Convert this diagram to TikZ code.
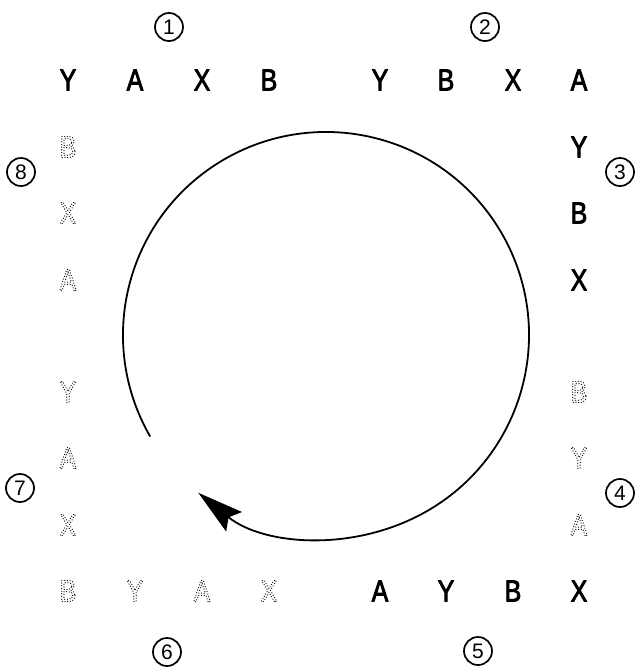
\documentclass[tikz,border=0pt]{standalone}
\usepackage{fontspec}
\setmainfont{Liberation Sans}
\newfontfamily\letf[FakeStretch=0.82]{Liberation Sans}
\usetikzlibrary{arrows.meta,calc}
\newcommand\dotletter[1]{\special{pdf:literal direct 1 Tr 1.25 w 1 J 1 j [0 2.7] 0 d}#1\special{pdf:literal direct 0 Tr 0 J 0 j [] 0 d}}
\newcommand\heavyletter[1]{\special{pdf:literal direct 2 Tr 0.8 w 1 j}#1\special{pdf:literal direct 0 Tr 0 j}}
\tikzset{
  boldl/.style={inner sep=0pt, font=\letf\fontsize{30.5}{30.5}\selectfont},
  dotl/.style={inner sep=0pt, font=\letf\fontsize{30.5}{30.5}\selectfont},
  numc/.style={circle, draw, line width=1.7pt, minimum size=28pt, inner sep=0pt, font=\fontsize{21}{21}\selectfont},
  turn/.style={line width=1.8pt, -{Stealth[length=46pt,width=25pt,inset=7pt]}},
}
\begin{document}
\begin{tikzpicture}[x=1pt,y=-1pt]
\useasboundingbox (0,0) rectangle (635,670);
% circled numbers
\node[numc] (n1) at (169,27) {1};
\node[numc] (n2) at (485,27) {2};
\node[numc] (n3) at (620,172) {3};
\node[numc] (n4) at (620,493) {4};
\node[numc] (n5) at (478,651) {5};
\node[numc] (n6) at (167,652) {6};
\node[numc] (n7) at (20,488) {7};
\node[numc] (n8) at (21,172) {8};
% turning arrow
\coordinate (c) at (326,335);
\draw[turn] ($(c)+(210:203pt)$) coordinate (st) arc[start angle=210, end angle=-129, radius=203pt];
% bold letters
\node[boldl] (t1y) at (68,80) {\heavyletter{Y}};
\node[boldl] (t1a) at (135,80) {\heavyletter{A}};
\node[boldl] (t1x) at (202,80) {\heavyletter{X}};
\node[boldl] (t1b) at (269,80) {\heavyletter{B}};
\node[boldl] (t2y) at (380,80) {\heavyletter{Y}};
\node[boldl] (t2b) at (446,80) {\heavyletter{B}};
\node[boldl] (t2x) at (513,80) {\heavyletter{X}};
\node[boldl] (t2a) at (579,80) {\heavyletter{A}};
\node[boldl] (r3y) at (579,147) {\heavyletter{Y}};
\node[boldl] (r3b) at (579,213) {\heavyletter{B}};
\node[boldl] (r3x) at (579,280) {\heavyletter{X}};
\node[boldl] (b5a) at (380,591) {\heavyletter{A}};
\node[boldl] (b5y) at (446,591) {\heavyletter{Y}};
\node[boldl] (b5b) at (513,591) {\heavyletter{B}};
\node[boldl] (b5x) at (579,591) {\heavyletter{X}};
% dotted letters
\node[dotl] (r4b) at (579,392) {\dotletter{B}};
\node[dotl] (r4y) at (579,458) {\dotletter{Y}};
\node[dotl] (r4a) at (579,525) {\dotletter{A}};
\node[dotl] (b6b) at (68,591) {\dotletter{B}};
\node[dotl] (b6y) at (135,591) {\dotletter{Y}};
\node[dotl] (b6a) at (202,591) {\dotletter{A}};
\node[dotl] (b6x) at (269,591) {\dotletter{X}};
\node[dotl] (l7y) at (68,392) {\dotletter{Y}};
\node[dotl] (l7a) at (68,458) {\dotletter{A}};
\node[dotl] (l7x) at (68,525) {\dotletter{X}};
\node[dotl] (l8b) at (68,147) {\dotletter{B}};
\node[dotl] (l8x) at (68,213) {\dotletter{X}};
\node[dotl] (l8a) at (68,280) {\dotletter{A}};
\end{tikzpicture}
\end{document}
